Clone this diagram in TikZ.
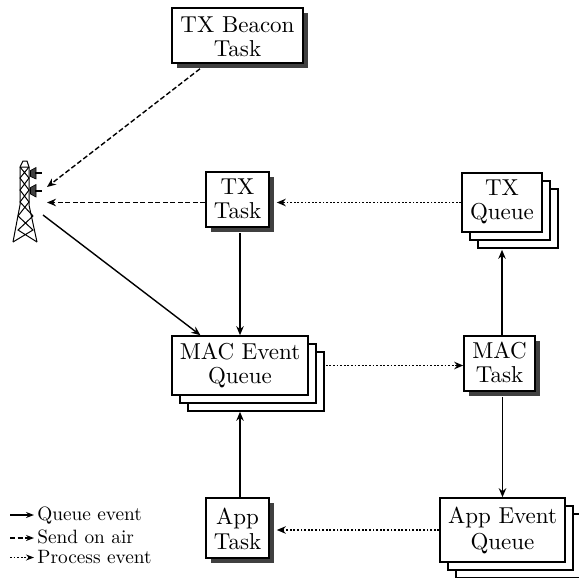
\documentclass[tikz,border=0pt]{standalone}
\usetikzlibrary{shadows,arrows.meta}
\definecolor{shadowgrey}{HTML}{404040}
\newcommand{\lab}[3][0.87]{\raisebox{-#2pt}[\height][\depth]{\scalebox{2.3}{\def\arraystretch{#1}\begin{tabular}{@{}c@{}}#3\end{tabular}}}}
\tikzset{
  base/.style={draw=black,fill=white,line width=1.6pt,align=center,inner sep=0pt},
  task/.style={base,drop shadow={shadow xshift=5pt,shadow yshift=-5pt,fill=shadowgrey,opacity=1}},
  queuebox/.style={base,double copy shadow={shadow xshift=8pt,shadow yshift=-8pt}},
  conn/.style={line width=1.4pt,-{Stealth[length=9pt,width=7.5pt]}},
  senda/.style={conn,dash pattern=on 5pt off 2.5pt},
  procs/.style={conn,dash pattern=on 1.8pt off 1.8pt},
  lattice/.style={line width=1pt},
  dish/.style={fill=shadowgrey,draw=black,line width=0.6pt},
  legendtext/.style={anchor=base west,inner sep=0pt,scale=1.93},
  legendtip/.style={line width=1.3pt,-{Stealth[length=8pt,width=6pt]}},
}
\begin{document}
\begin{tikzpicture}[x=1pt,y=-1pt]
\useasboundingbox (0,0) rectangle (579,578);
\node[task,minimum width=131pt,minimum height=55pt] (beacon) at (237.5,35.5) {\lab{4}{TX Beacon\\Task}};
\node[task,minimum width=63pt,minimum height=55pt] (txt) at (237.5,199.5) {\lab{2.5}{TX\\Task}};
\node[queuebox,minimum width=80pt,minimum height=59pt] (txq) at (502,202.5) {\lab{0.5}{TX\\Queue}};
\node[queuebox,minimum width=136pt,minimum height=59pt] (macq) at (240,365.5) {\lab{1.5}{MAC Event\\Queue}};
\node[task,minimum width=71pt,minimum height=55pt] (mact) at (499.5,363.5) {\lab{2.5}{MAC\\Task}};
\node[task,minimum width=63pt,minimum height=60pt] (appt) at (237.5,528) {\lab[0.91]{4}{App\\Task}};
\node[queuebox,minimum width=125pt,minimum height=64pt] (appq) at (502.5,530) {\lab[0.94]{1.5}{App Event\\Queue}};
% tower
\draw[lattice] (13,242) -- (20,205) -- (20,167) -- (23,161) -- (27,161) -- (29,167) -- (29,205) -- (37,242);
\draw[lattice] (20,167) -- (29,167)
  (20,167) -- (29,178) -- (20,190) -- (29,202) -- (18,216) -- (33,230) -- (13,242)
  (29,167) -- (20,178) -- (29,190) -- (20,202) -- (33,216) -- (18,230) -- (37,242);
\draw[dish] (30.5,170.5) -- (36,167.5) -- (36,179) -- (30.5,176.5) -- cycle;
\draw[dish] (30.5,187.5) -- (36,184.5) -- (36,197) -- (30.5,194) -- cycle;
\draw[line width=2pt] (35,173) -- (42,173) (35,190.5) -- (42,190.5);
\coordinate (t1) at (47,187);
\coordinate (t2) at (47,202.5);
\coordinate (t3) at (43,215);
% connectors
\draw[senda] ([xshift=-37.5pt,yshift=-5pt]beacon.south) -- (t1);
\draw[senda] (txt.west |- txq.west) -- (t2);
\draw[conn] (t3) -- (macq);
\draw[conn,shorten <=5pt] (txt.south -| macq.north) -- (macq.north);
\draw[procs,shorten >=7pt] (txq.west) -- (txq.west -| txt.east);
\draw[procs,shorten <=17pt] (macq.east) -- (macq.east -| mact.west);
\draw[conn,shorten >=17pt] (mact.north -| txq.south) -- (txq.south);
\draw[conn,shorten <=5pt] (mact.south -| appq.north) -- (appq.north);
\draw[conn,shorten >=16pt] (appt.north -| macq.south) -- (macq.south);
\draw[procs,shorten >=7pt] (appq.west) -- (appq.west -| appt.east);
% legend
\node[legendtext] (l1) at (37,520) {Queue event};
\node[legendtext] (l2) at (37,543) {Send on air};
\node[legendtext] (l3) at (37,563) {Process event};
\coordinate (a1) at (10,515);
\coordinate (a2) at (10,538);
\coordinate (a3) at (10,557.5);
\draw[conn,legendtip,shorten >=3pt] (a1) -- (a1 -| l1.west);
\draw[senda,legendtip,shorten >=3pt] (a2) -- (a2 -| l2.west);
\draw[procs,legendtip,shorten >=3pt] (a3) -- (a3 -| l3.west);
\end{tikzpicture}
\end{document}
